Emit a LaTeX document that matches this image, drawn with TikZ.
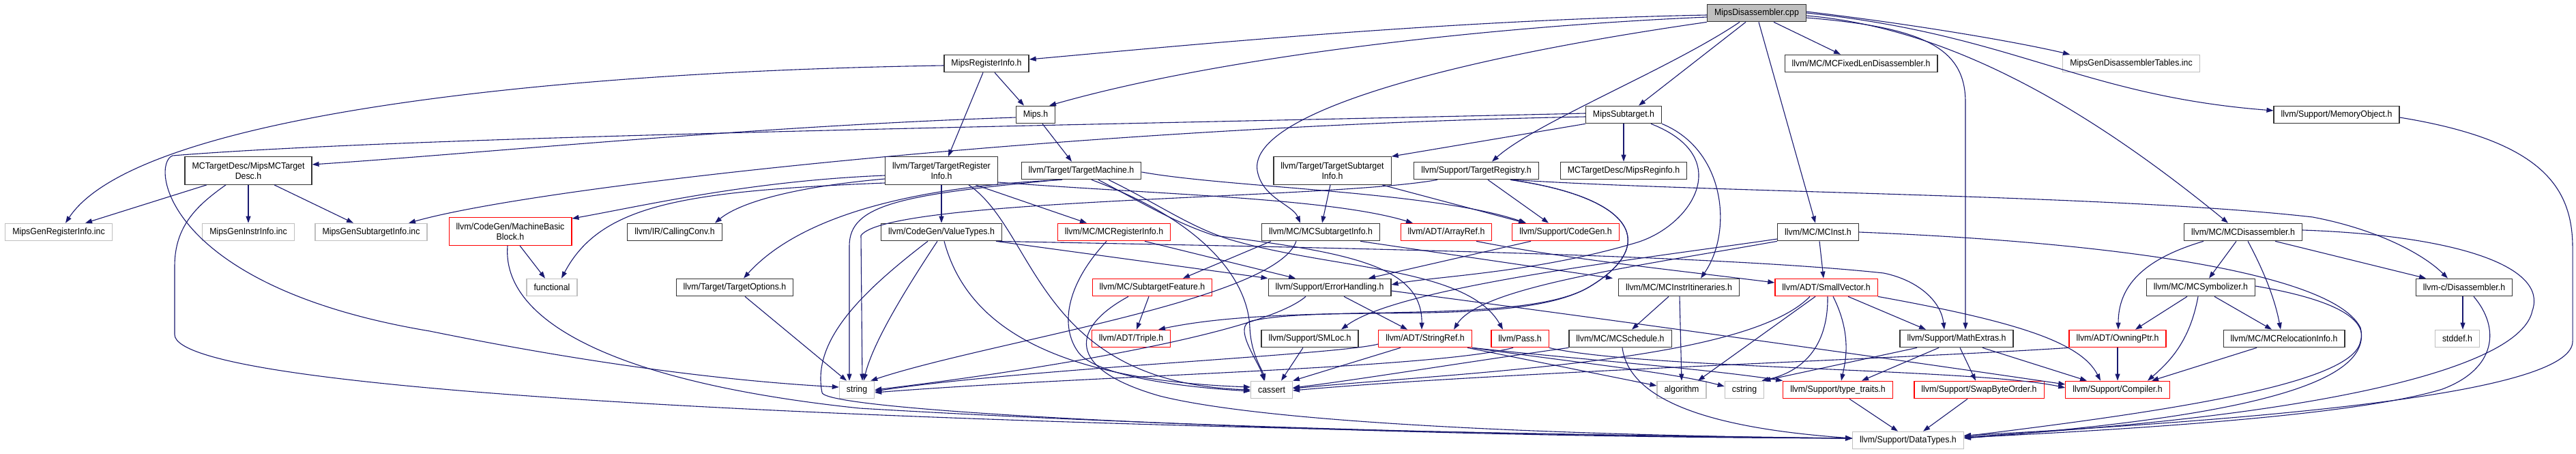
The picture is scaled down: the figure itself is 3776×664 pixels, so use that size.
\documentclass[tikz,border=0pt]{standalone}
\usepackage{fontspec}
\setmainfont{Liberation Sans}[FakeStretch=0.93]
\usetikzlibrary{arrows.meta}
\definecolor{ecol}{HTML}{191970}
\definecolor{gfill}{HTML}{BFBFBF}
\definecolor{gline}{HTML}{BFBFBF}
\definecolor{rline}{HTML}{FF0000}
\tikzset{
 nd/.style={draw=black!80, line width=1.2pt, fill=white, font=\fontsize{13.3}{15}\selectfont, inner xsep=10.5pt, inner ysep=2pt, minimum height=25.5pt, align=center},
 rednd/.style={nd, draw=rline},
 graynd/.style={nd, draw=gline},
 rootnd/.style={nd, fill=gfill},
 two/.style={minimum height=40.5pt},
 edg/.style={draw=ecol, line width=1.1pt, -{Triangle[length=10pt,width=7pt]}},
}
\begin{document}
\begin{tikzpicture}[x=1pt,y=-1pt]
\fill[white] (0,0) rectangle (3776,664);
\useasboundingbox (0,0) rectangle (3776,664);
% nodes
\node[rootnd] (R) at (2575,19) {MipsDisassembler.cpp};
\node[nd] (MRI) at (1446,93) {MipsRegisterInfo.h};
\node[nd] (FIXED) at (2728,93) {llvm/MC/MCFixedLenDisassembler.h};
\node[graynd] (GDT) at (3124,93) {MipsGenDisassemblerTables.inc};
\node[nd] (MIPS) at (1518,168) {Mips.h};
\node[nd] (MST) at (2380,168) {MipsSubtarget.h};
\node[nd] (MEMO) at (3425,168) {llvm/Support/MemoryObject.h};
\node[nd,two] (MCTD) at (364,250) {MCTargetDesc/MipsMCTarget\\Desc.h};
\node[nd,two] (TRI) at (1380,250) {llvm/Target/TargetRegister\\Info.h};
\node[nd] (TM) at (1585,250) {llvm/Target/TargetMachine.h};
\node[nd,two] (TSTI) at (1953,250) {llvm/Target/TargetSubtarget\\Info.h};
\node[nd] (TREG) at (2164,250) {llvm/Support/TargetRegistry.h};
\node[nd] (REGINFO) at (2380,250) {MCTargetDesc/MipsReginfo.h};
\node[graynd] (GRI) at (86,340) {MipsGenRegisterInfo.inc};
\node[graynd] (GII) at (364,340) {MipsGenInstrInfo.inc};
\node[graynd] (GSI) at (544,340) {MipsGenSubtargetInfo.inc};
\node[rednd,two] (MBB) at (748,339) {llvm/CodeGen/MachineBasic\\Block.h};
\node[nd] (CC) at (989,340) {llvm/IR/CallingConv.h};
\node[nd] (VT) at (1380,340) {llvm/CodeGen/ValueTypes.h};
\node[rednd] (MCRI) at (1633,340) {llvm/MC/MCRegisterInfo.h};
\node[nd] (MCSTI) at (1936,340) {llvm/MC/MCSubtargetInfo.h};
\node[rednd] (AR) at (2120,340) {llvm/ADT/ArrayRef.h};
\node[rednd] (CG) at (2295,340) {llvm/Support/CodeGen.h};
\node[nd] (MCI) at (2665,340) {llvm/MC/MCInst.h};
\node[nd] (MCD) at (3288,340) {llvm/MC/MCDisassembler.h};
\node[graynd] (FUNC) at (809,421) {functional};
\node[nd] (TO) at (1077,421) {llvm/Target/TargetOptions.h};
\node[rednd] (SF) at (1689,421) {llvm/MC/SubtargetFeature.h};
\node[nd] (EH) at (1949,421) {llvm/Support/ErrorHandling.h};
\node[nd] (ITIN) at (2461,421) {llvm/MC/MCInstrItineraries.h};
\node[rednd] (SV) at (2677,421) {llvm/ADT/SmallVector.h};
\node[nd] (MSYM) at (3226,421) {llvm/MC/MCSymbolizer.h};
\node[nd] (LDIS) at (3612,421) {llvm-c/Disassembler.h};
\node[rednd] (TRIP) at (1658,496) {llvm/ADT/Triple.h};
\node[nd] (SML) at (1920,496) {llvm/Support/SMLoc.h};
\node[rednd] (SR) at (2089,496) {llvm/ADT/StringRef.h};
\node[rednd] (PASS) at (2228,496) {llvm/Pass.h};
\node[nd] (SCHED) at (2375,496) {llvm/MC/MCSchedule.h};
\node[nd] (MATH) at (2868,496) {llvm/Support/MathExtras.h};
\node[rednd] (OP) at (3104,496) {llvm/ADT/OwningPtr.h};
\node[nd] (MCRL) at (3348,496) {llvm/MC/MCRelocationInfo.h};
\node[graynd] (STDDEF) at (3602,496) {stddef.h};
\node[graynd] (STR) at (1256,571) {string};
\node[graynd] (CAS) at (1864,571) {cassert};
\node[graynd] (ALG) at (2465,571) {algorithm};
\node[graynd] (CSTR) at (2557,571) {cstring};
\node[rednd] (TT) at (2694,571) {llvm/Support/type\_traits.h};
\node[rednd] (SBO) at (2901,571) {llvm/Support/SwapByteOrder.h};
\node[rednd] (COMP) at (3104,571) {llvm/Support/Compiler.h};
\node[graynd] (DT) at (2797,645) {llvm/Support/DataTypes.h};
% root
\draw[edg] ([yshift=-3pt]R.west) .. controls (2100,30) and (1700,70) .. ([yshift=6pt]MRI.east);
\draw[edg] ([yshift=-6pt]R.west) .. controls (2200,38) and (1800,80) .. ([xshift=20pt]MIPS.north);
\draw[edg] (R.south west) .. controls (2100,90) and (1830,170) .. (1843,250) .. controls (1850,290) and (1895,300) .. ([xshift=-30pt]MCSTI.north);
\draw[edg] ([xshift=-25pt]R.south) .. controls (2450,100) and (2250,180) .. ([xshift=23pt]TREG.north);
\draw[edg] ([xshift=-16pt]R.south) -- ([xshift=22pt]MST.north);
\draw[edg] ([xshift=3pt]R.south) -- ([xshift=-4pt]MCI.north);
\draw[edg] ([xshift=25pt]R.south) -- ([xshift=-30pt]FIXED.north);
\draw[edg] ([yshift=2pt]R.east) .. controls (2800,35) and (2950,60) .. ([xshift=-90pt]GDT.north);
\draw[edg] ([yshift=0pt]R.east) .. controls (2950,50) and (3050,140) .. ([yshift=6pt]MEMO.west);
\draw[edg] ([yshift=-4pt]R.east) .. controls (2850,40) and (3050,150) .. ([xshift=-22pt]MCD.north);
\draw[edg] ([yshift=-7pt]R.east) .. controls (2820,40) and (2881,70) .. (2881,150) -- ([xshift=13pt]MATH.north);
% MipsRegisterInfo
\draw[edg] ([xshift=12pt]MRI.south) -- ([xshift=-17pt]MIPS.north);
\draw[edg] ([xshift=-5pt]MRI.south) -- ([xshift=10pt]TRI.north);
\draw[edg] ([yshift=-3pt]MRI.west) .. controls (800,105) and (200,170) .. ([xshift=10pt]GRI.north);
% Mips.h
\draw[edg] ([yshift=-4pt]MIPS.west) .. controls (1100,185) and (700,225) .. ([yshift=9pt]MCTD.east);
\draw[edg] ([xshift=10pt]MIPS.south) -- ([xshift=-14pt]TM.north);
% MipsSubtarget
\draw[edg] (MST.south) -- (REGINFO.north);
\draw[edg] (MST.south west) -- (TSTI.north east);
\draw[edg] ([yshift=-3pt]MST.west) .. controls (1600,185) and (800,270) .. ([xshift=55pt]GSI.north);
\draw[edg] ([yshift=2pt]MST.west) .. controls (1500,185) and (600,200) .. (253,228) .. controls (220,240) and (240,420) .. (630,485) .. controls (900,540) and (1100,560) .. ([yshift=4pt]STR.west);
\draw[edg] (MST.south east) .. controls (2530,220) and (2540,340) .. ([xshift=32pt]ITIN.north);
\draw[edg] ([xshift=40pt]MST.south) .. controls (2545,230) and (2480,330) .. (2400,355) .. controls (2250,400) and (2100,405) .. ([yshift=4pt]EH.east);
% MipsMCTargetDesc
\draw[edg] ([xshift=-61pt]MCTD.south) -- ([xshift=39pt]GRI.north);
\draw[edg] (MCTD.south) -- (GII.north);
\draw[edg] ([xshift=38pt]MCTD.south) -- ([xshift=-26pt]GSI.north);
\draw[edg] ([xshift=-33pt]MCTD.south) .. controls (290,300) and (256,330) .. (256,390) -- (256,490) .. controls (256,575) and (1300,625) .. ([yshift=3pt]DT.west);
% TargetRegisterInfo
\draw[edg] (TRI.south) -- (VT.north);
\draw[edg] ([xshift=50pt]TRI.south) -- ([xshift=-40pt]MCRI.north);
\draw[edg] ([yshift=-17pt]TRI.east) .. controls (1700,285) and (1950,290) .. ([xshift=-49pt]AR.north);
\draw[edg] ([yshift=-7pt]TRI.west) .. controls (1100,265) and (950,300) .. ([yshift=-2pt]MBB.north east);
\draw[edg] ([yshift=-12pt]TRI.west) .. controls (1150,275) and (1080,300) .. ([xshift=59pt]CC.north);
\draw[edg] ([yshift=-18pt]TRI.west) .. controls (1000,280) and (880,300) .. ([xshift=14pt]FUNC.north);
\draw[edg] ([xshift=40pt]TRI.south) .. controls (1520,340) and (1520,560) .. (CAS.west);
% TargetMachine
\draw[edg] ([xshift=-28pt]TM.south) .. controls (1300,275) and (1160,330) .. ([xshift=13pt]TO.north);
\draw[edg] ([xshift=-33pt]TM.south) .. controls (1320,285) and (1245,300) .. (1245,360) -- ([xshift=-11pt]STR.north);
\draw[edg] ([xshift=25pt]TM.south) .. controls (1680,300) and (1720,325) .. (1780,345) .. controls (1980,370) and (2085,390) .. ([xshift=-5pt]SR.north);
\draw[edg] ([xshift=40pt]TM.south) .. controls (1700,300) and (1740,330) .. (1800,350) .. controls (1950,395) and (2150,390) .. ([xshift=-25pt]PASS.north);
\draw[edg] ([yshift=-2pt]TM.east) .. controls (1800,275) and (2100,280) .. ([xshift=-58pt]CG.north);
\draw[edg] ([xshift=15pt]TM.south) .. controls (1780,330) and (1830,420) .. (1832,480) .. controls (1834,520) and (1850,540) .. ([xshift=-10pt]CAS.north);
% TargetSubtargetInfo
\draw[edg] ([xshift=-3pt]TSTI.south) -- ([xshift=2pt]MCSTI.north);
\draw[edg] ([xshift=73pt]TSTI.south) -- ([xshift=-59pt]CG.north);
% TargetRegistry
\draw[edg] ([xshift=17pt]TREG.south) -- ([xshift=-25pt]CG.north);
\draw[edg] ([xshift=-57pt]TREG.south) .. controls (1950,292) and (1300,290) .. (1262,345) -- ([xshift=8pt]STR.north);
\draw[edg] ([xshift=55pt]TREG.south) .. controls (2500,282) and (3100,285) .. (3390,318) .. controls (3480,335) and (3550,370) .. ([xshift=-24pt]LDIS.north);
\draw[edg] ([xshift=50pt]TREG.south) .. controls (2400,290) and (2430,360) .. (2330,420) .. controls (2230,480) and (1900,440) .. ([xshift=40pt]TRIP.north);
\draw[edg] ([xshift=50pt]TREG.south) .. controls (2400,290) and (2430,360) .. (2330,420) .. controls (2230,480) and (1950,445) .. (1835,470) .. controls (1805,477) and (1845,530) .. ([xshift=-11pt]CAS.north);
% MachineBasicBlock
\draw[edg] ([xshift=14pt]MBB.south) -- ([xshift=-10pt]FUNC.north);
\draw[edg] ([xshift=-4pt]MBB.south) .. controls (735,470) and (900,560) .. (1260,598) .. controls (1800,630) and (2400,640) .. ([yshift=3pt]DT.west);
% ValueTypes
\draw[edg] ([xshift=-6pt]VT.south) .. controls (1330,420) and (1280,500) .. ([xshift=10pt]STR.north);
\draw[edg] ([xshift=4pt]VT.south) .. controls (1410,450) and (1500,555) .. ([yshift=4pt]CAS.west);
\draw[edg] ([xshift=80pt]VT.south) -- (EH.north west);
\draw[edg] ([xshift=80pt]VT.south) .. controls (1900,362) and (2500,372) .. (2761,400) .. controls (2810,410) and (2845,440) .. ([xshift=-18pt]MATH.north);
\draw[edg] ([xshift=-20pt]VT.south) .. controls (1260,430) and (1190,500) .. (1205,575) .. controls (1210,605) and (2000,640) .. ([yshift=3pt]DT.west);
% MCRegisterInfo
\draw[edg] ([xshift=45pt]MCRI.south) -- ([xshift=-50pt]EH.north);
\draw[edg] ([xshift=-11pt]MCRI.south) .. controls (1560,420) and (1555,480) .. (1580,515) .. controls (1600,545) and (1700,565) .. ([yshift=-2pt]CAS.west);
% MCSubtargetInfo
\draw[edg] ([xshift=-73pt]MCSTI.south) -- ([xshift=45pt]SF.north);
\draw[edg] ([xshift=58pt]MCSTI.south) -- ([xshift=-97pt]ITIN.north);
\draw[edg] ([xshift=-36pt]MCSTI.south) .. controls (1870,440) and (1450,500) .. ([xshift=-6pt]STR.north east);
% ArrayRef, CodeGen
\draw[edg] ([xshift=44pt]AR.south) .. controls (2300,380) and (2450,395) .. ([yshift=7pt]SV.west);
\draw[edg] ([xshift=-51pt]CG.south) -- ([xshift=57pt]EH.north);
% MCInst
\draw[edg] ([xshift=2pt]MCI.south) -- ([xshift=-4pt]SV.north);
\draw[edg] ([yshift=-10pt]MCI.west) .. controls (2400,380) and (2050,420) .. ([xshift=46pt]SML.north);
\draw[edg] (MCI.south west) .. controls (2400,390) and (2170,420) .. ([xshift=42pt]SR.north);
\draw[edg] (MCI.east) .. controls (3100,355) and (3420,400) .. (3460,480) .. controls (3480,560) and (3300,610) .. ([yshift=3pt]DT.east);
% MCDisassembler
\draw[edg] ([xshift=-58pt]MCD.south) .. controls (3140,380) and (3105,420) .. ([xshift=1pt]OP.north);
\draw[edg] ([xshift=-10pt]MCD.south) -- ([xshift=12pt]MSYM.north);
\draw[edg] ([xshift=7pt]MCD.south) .. controls (3320,400) and (3335,440) .. ([xshift=-5pt]MCRL.north);
\draw[edg] ([xshift=47pt]MCD.south) -- ([xshift=-56pt]LDIS.north);
\draw[edg] ([yshift=3pt]MCD.east) .. controls (3600,345) and (3735,390) .. (3712,455) .. controls (3695,540) and (3400,610) .. ([yshift=5pt]DT.east);
% TargetOptions, SubtargetFeature
\draw[edg] ([xshift=15pt]TO.south) -- ([xshift=-15pt]STR.north);
\draw[edg] ([xshift=-5pt]SF.south) -- ([xshift=8pt]TRIP.north);
\draw[edg] ([xshift=-35pt]SF.south) .. controls (1570,480) and (1560,540) .. (1700,580) .. controls (1900,630) and (2500,640) .. ([yshift=3pt]DT.west);
% ErrorHandling
\draw[edg] ([xshift=21pt]EH.south) -- ([xshift=-26pt]SR.north);
\draw[edg] ([xshift=-35pt]EH.south) .. controls (1850,490) and (1500,545) .. (STR.east);
\draw[edg] ([yshift=-5pt]EH.east) .. controls (2300,460) and (2700,515) .. ([yshift=8pt]COMP.west);
% MCInstrItineraries
\draw[edg] ([xshift=-15pt]ITIN.south) -- ([xshift=17pt]SCHED.north);
\draw[edg] ([xshift=1pt]ITIN.south) -- (ALG.north);
% SmallVector
\draw[edg] ([xshift=-24pt]SV.south) .. controls (2560,530) and (2150,545) .. ([yshift=2pt]CAS.east);
\draw[edg] ([xshift=2pt]SV.south) .. controls (2680,510) and (2640,545) .. ([xshift=-4pt]CSTR.north east);
\draw[edg] ([xshift=-16pt]SV.south) -- ([xshift=24pt]ALG.north);
\draw[edg] ([xshift=10pt]SV.south) .. controls (2715,490) and (2705,530) .. ([xshift=5pt]TT.north);
\draw[edg] ([xshift=32pt]SV.south) -- ([xshift=-45pt]MATH.north);
\draw[edg] (SV.south east) .. controls (2950,470) and (3050,500) .. ([xshift=-25pt]COMP.north);
% MCSymbolizer
\draw[edg] ([xshift=-20pt]MSYM.south) -- ([xshift=26pt]OP.north);
\draw[edg] ([xshift=-4pt]MSYM.south) .. controls (3210,500) and (3180,530) .. ([xshift=44pt]COMP.north);
\draw[edg] ([xshift=20pt]MSYM.south) -- ([xshift=-18pt]MCRL.north);
\draw[edg] ([yshift=2pt]MSYM.east) .. controls (3430,440) and (3470,470) .. (3460,500) .. controls (3450,560) and (3200,600) .. ([yshift=6pt]DT.east);
% llvm-c/Disassembler
\draw[edg] ([xshift=-2pt]LDIS.south) -- ([xshift=8pt]STDDEF.north);
\draw[edg] ([xshift=14pt]LDIS.south) .. controls (3665,480) and (3660,540) .. (3580,570) .. controls (3450,610) and (3100,630) .. ([yshift=4pt]DT.east);
% SMLoc, StringRef, Pass
\draw[edg] ([xshift=-10pt]SML.south) -- ([xshift=14pt]CAS.north);
\draw[edg] ([xshift=-36pt]SR.south) -- (CAS.north east);
\draw[edg] ([xshift=62pt]SR.south) -- ([yshift=6pt]ALG.west);
\draw[edg] (SR.south east) .. controls (2300,530) and (2450,545) .. ([yshift=5pt]CSTR.west);
\draw[edg] (SR.south east) .. controls (2300,525) and (2500,540) .. (TT.north west);
\draw[edg] ([yshift=-8pt]SR.west) .. controls (1960,520) and (1500,540) .. ([yshift=-2pt]STR.east);
\draw[edg] ([xshift=-10pt]PASS.south) .. controls (2100,540) and (1600,550) .. ([yshift=-4pt]STR.east);
\draw[edg] (PASS.south east) .. controls (2400,540) and (2900,540) .. ([yshift=3pt]COMP.west);
% MCSchedule
\draw[edg] (SCHED.south west) .. controls (2150,530) and (2000,555) .. ([yshift=3pt]CAS.east);
\draw[edg] ([xshift=3pt]SCHED.south) .. controls (2390,600) and (2550,630) .. ([yshift=3pt]DT.west);
% MathExtras
\draw[edg] ([xshift=-58pt]MATH.south) -- ([xshift=-1pt]CSTR.north east);
\draw[edg] ([xshift=-26pt]MATH.south) -- ([xshift=35pt]TT.north);
\draw[edg] ([xshift=5pt]MATH.south) -- ([xshift=-5pt]SBO.north);
\draw[edg] ([xshift=38pt]MATH.south) -- ([xshift=-45pt]COMP.north);
% OwningPtr, MCRelocationInfo
\draw[edg] (OP.south) -- (COMP.north);
\draw[edg] (OP.south west) .. controls (2800,525) and (2200,545) .. ([yshift=-1pt]CAS.east);
\draw[edg] ([xshift=-40pt]MCRL.south) -- ([xshift=50pt]COMP.north);
% to DataTypes
\draw[edg] ([xshift=17pt]TT.south) -- ([xshift=-15pt]DT.north);
\draw[edg] ([xshift=-17pt]SBO.south) -- ([xshift=22pt]DT.north);
\draw[edg] ([yshift=-4pt]MEMO.east) .. controls (3720,205) and (3770,270) .. (3771,360) -- (3771,500) .. controls (3771,570) and (3400,610) .. ([yshift=7pt]DT.east);
\end{tikzpicture}
\end{document}
